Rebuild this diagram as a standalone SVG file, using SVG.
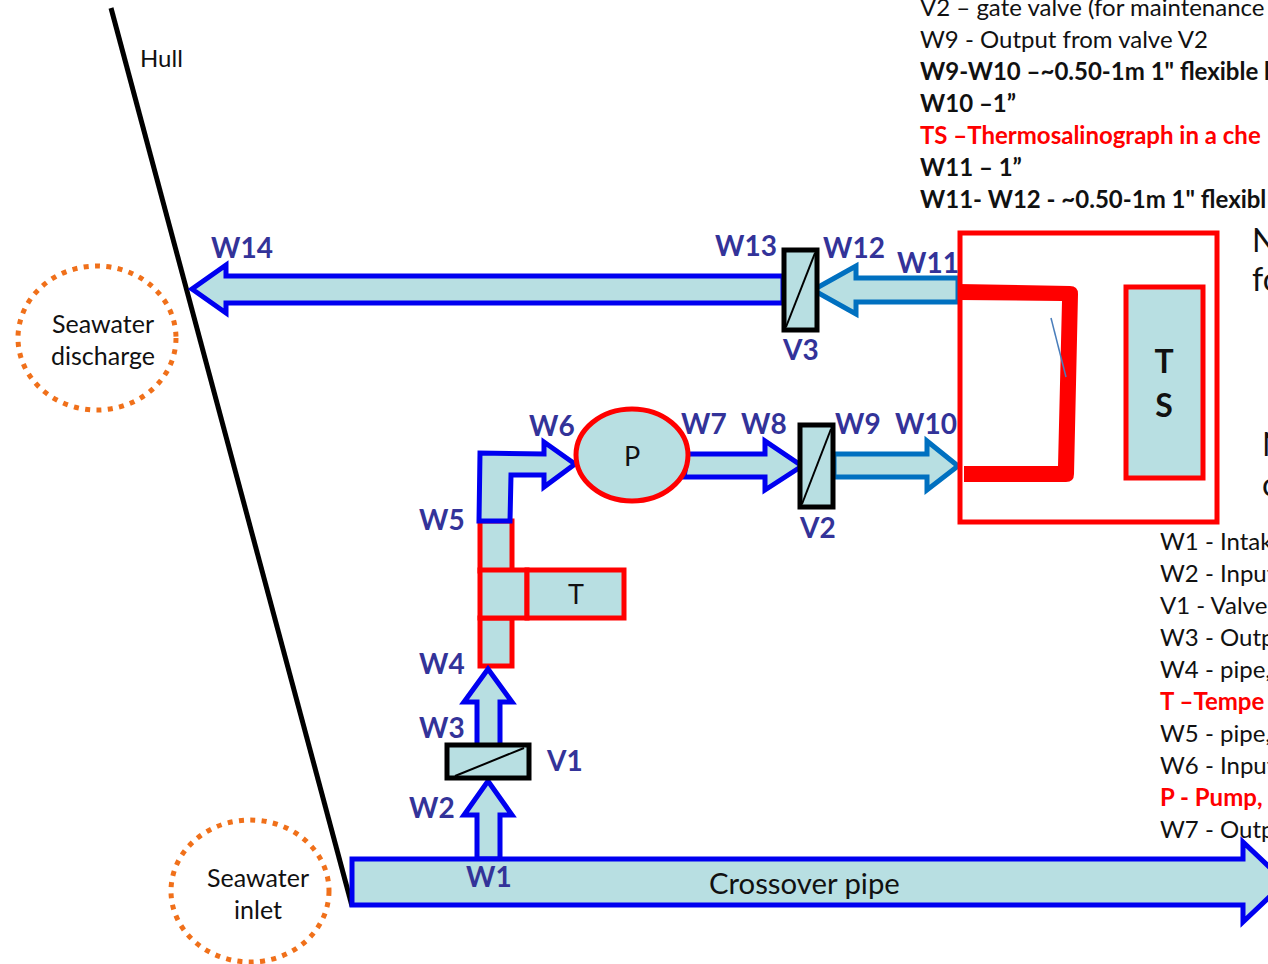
<svg xmlns="http://www.w3.org/2000/svg" width="1268" height="964" viewBox="0 0 1268 964">
<style>
text{font-family:"Lato","Open Sans","Liberation Sans",sans-serif;fill:#111}
.b{font-size:24px}
.bb{font-size:24px;font-weight:700}
.r{font-size:24px;font-weight:700;fill:#f00}
.c{font-size:25px}
.l{font-size:28px;font-weight:700;fill:#333399}
.m{text-anchor:middle}
.pipe{fill:#b8dfe2;stroke:#0000f0;stroke-width:5;stroke-linejoin:miter}
.pipe2{fill:#b8dfe2;stroke:#0070c0;stroke-width:5}
.red{fill:#b8dfe2;stroke:#f00;stroke-width:5}
.valve{fill:#b8dfe2;stroke:#000;stroke-width:5}
.diag{stroke:#000;stroke-width:2;fill:none}
.dot{fill:none;stroke:#f0701a;stroke-width:5;stroke-dasharray:5 6.4}
</style>
<g id="legend-top">
<text class="b" x="920" y="16">V2 – gate valve (for maintenance</text>
<text class="b" x="920" y="48">W9 - Output from valve V2</text>
<text class="bb" x="920" y="80">W9-W10 –~0.50-1m 1" flexible h</text>
<text class="bb" x="920" y="112">W10 –1”</text>
<text class="r" x="920" y="144">TS –Thermosalinograph in a che</text>
<text class="bb" x="920" y="176">W11 – 1”</text>
<text class="bb" x="920" y="208">W11- W12 - ~0.50-1m 1" flexibl</text>
</g>
<g id="legend-bottom">
<text class="b" x="1160" y="550">W1 - Intak</text>
<text class="b" x="1160" y="582">W2 - Input</text>
<text class="b" x="1160" y="614">V1 - Valve</text>
<text class="b" x="1160" y="646">W3 - Outp</text>
<text class="b" x="1160" y="678">W4 - pipe,</text>
<text class="r" x="1160" y="710">T –Tempe</text>
<text class="b" x="1160" y="742">W5 - pipe,</text>
<text class="b" x="1160" y="774">W6 - Input</text>
<text class="r" x="1160" y="806">P - Pump,</text>
<text class="b" x="1160" y="838">W7 - Outp</text>
</g>
<g id="notes">
<text x="1252" y="252" style="font-size:32px">N</text>
<text x="1252" y="291" style="font-size:32px">fo</text>
<text x="1262" y="456" style="font-size:32px">N</text>
<text x="1262" y="496" style="font-size:32px">c</text>
</g>
<g id="hull"><line x1="111" y1="8" x2="352" y2="906" stroke="#000" stroke-width="5"/><text class="b" x="140" y="67">Hull</text></g>
<g id="seawater-discharge"><ellipse class="dot" cx="97" cy="338" rx="79" ry="72"/><text class="c m" x="103" y="333">Seawater</text><text class="c m" x="103" y="365">discharge</text></g>
<g id="seawater-inlet"><ellipse class="dot" cx="250" cy="891" rx="79" ry="71"/><text class="c m" x="258" y="887">Seawater</text><text class="c m" x="258" y="919">inlet</text></g>
<g id="temperature-sensor">
<rect class="red" x="480" y="521" width="32" height="50"/>
<rect class="red" x="480" y="618" width="32" height="48"/>
<rect class="red" x="480" y="570" width="47" height="48"/>
<rect class="red" x="527" y="570" width="97" height="48"/>
<text class="m" x="576" y="604" style="font-size:27px">T</text>
</g>
<g id="connectors">
<path class="pipe" d="M477 859V815H464L488 781L512 815H500V859Z"/>
<path class="pipe" d="M477 747V702H464L488 669L512 702H500V747Z"/>
<path class="pipe" d="M479 521L480 453L544 454V442L575 464L544 487V475L511 475L510 521Z"/>
<path class="pipe" d="M688 454H765V441L802 466L765 490V477H684Z"/>
<path class="pipe2" d="M834 454H927V441L958 466L927 490V477H834Z"/>
<path class="pipe2" d="M958 278H856V266L813 290L856 314V302H958Z"/>
<path class="pipe" d="M783 276H226V265L192 289L226 313V303H783Z"/>
<path class="pipe" d="M352 859H1243V842L1285 882L1243 922V905H352Z"/>
</g>
<g id="TS-chest">
<rect x="960" y="233" width="257" height="289" fill="#fff" fill-opacity="0" stroke="#f00" stroke-width="5"/>
<path d="M958 284L1070 286Q1078 286 1078 294L1074 474Q1074 482 1066 482H964V466H1058L1062 301L958 300Z" fill="#f00"/>
<line x1="1051" y1="318" x2="1066" y2="377" stroke="#4a7ebb" stroke-width="1.5"/>
<rect class="red" x="1126" y="287" width="77" height="191"/>
<text class="m" x="1164" y="373" style="font-size:32px;font-weight:700">T</text>
<text class="m" x="1164" y="417" style="font-size:32px;font-weight:700">S</text>
</g>
<g id="V3"><rect class="valve" x="784" y="250" width="33" height="80" fill-opacity="1"/><line class="diag" x1="815" y1="253" x2="786" y2="327"/></g>
<g id="V2"><rect class="valve" x="800" y="425" width="33" height="82"/><line class="diag" x1="831" y1="429" x2="802" y2="504"/></g>
<g id="V1"><rect class="valve" x="447" y="745" width="82" height="33"/><line class="diag" x1="524" y1="748" x2="455" y2="776"/></g>
<g id="pump"><ellipse class="red" cx="632" cy="455" rx="56" ry="46"/><text class="m" x="632" y="466" style="font-size:27px">P</text></g>
<g id="labels">
<text class="l" x="211" y="258">W14</text>
<text class="l" x="715" y="256">W13</text>
<text class="l" x="823" y="258">W12</text>
<text class="l" x="897" y="273">W11</text>
<text class="l" x="783" y="360">V3</text>
<text class="l" x="681" y="434">W7</text>
<text class="l" x="741" y="434">W8</text>
<text class="l" x="835" y="434">W9</text>
<text class="l" x="895" y="434">W10</text>
<text class="l" x="800" y="538">V2</text>
<text class="l" x="529" y="436">W6</text>
<text class="l" x="419" y="530">W5</text>
<text class="l" x="419" y="674">W4</text>
<text class="l" x="419" y="738">W3</text>
<text class="l" x="409" y="818">W2</text>
<text class="l" x="466" y="887">W1</text>
<text class="l" x="547" y="771">V1</text>
<text x="709" y="894" style="font-size:29.3px">Crossover pipe</text>
</g>
</svg>
